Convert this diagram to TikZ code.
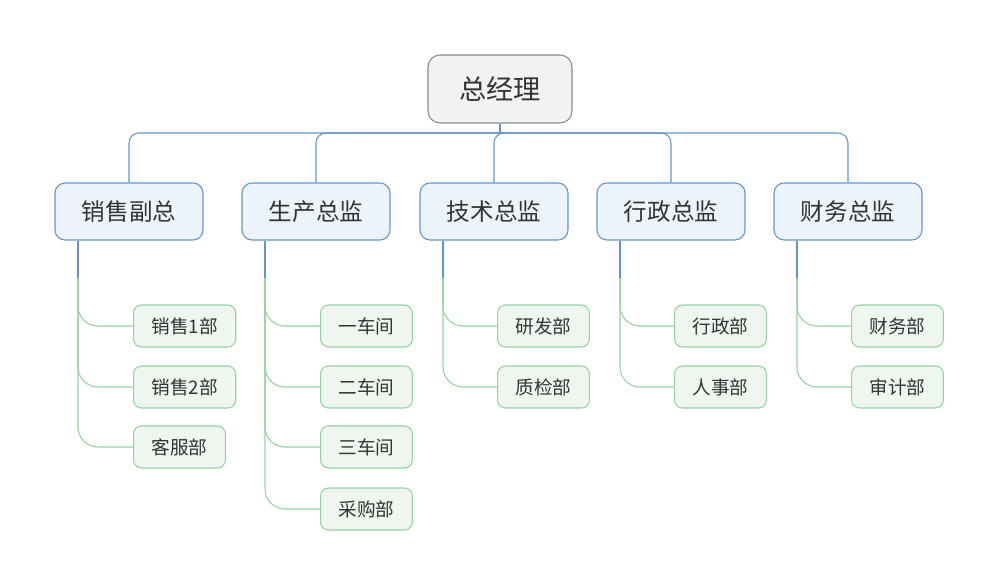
\documentclass[tikz,border=0pt]{standalone}
\usepackage{fontspec}
\setmainfont{Noto Sans CJK SC}
\definecolor{bossfill}{HTML}{F2F2F2}
\definecolor{bossline}{HTML}{8A8A8A}
\definecolor{headfill}{HTML}{EDF3FB}
\definecolor{headline}{HTML}{6393CD}
\definecolor{deptfill}{HTML}{EEF6EF}
\definecolor{deptline}{HTML}{92D3A2}
\definecolor{txt}{HTML}{333333}
\tikzset{
  boss/.style={draw=bossline,fill=bossfill,rounded corners=0.24cm,line width=0.6pt,
    minimum width=2.88cm,minimum height=1.36cm,text=txt,font=\fontsize{15.5}{18}\selectfont},
  head/.style={draw=headline,fill=headfill,rounded corners=0.2cm,line width=0.6pt,
    minimum width=2.96cm,minimum height=1.14cm,text=txt,font=\fontsize{13.4}{16}\selectfont},
  dept/.style={draw=deptline,fill=deptfill,rounded corners=0.16cm,line width=0.6pt,
    inner xsep=0.36cm,minimum height=0.84cm,anchor=west,text=txt,font=\fontsize{10.6}{13}\selectfont},
  blueline/.style={draw=headline,line width=0.6pt},
  greenline/.style={draw=deptline,line width=0.6pt,rounded corners=0.4cm}
}
\begin{document}
\begin{tikzpicture}[x=0.02cm,y=-0.02cm]
\useasboundingbox(0,0)rectangle(1000,584);
\node[boss](gm)at(500,89){总经理};
\coordinate(bar)at(500,133);
\draw[blueline](gm.south)--(bar);
%directors
\foreach \n/\x/\t in {xs/129/销售副总,sc/316/生产总监,js/494/技术总监,xz/671/行政总监,cw/848/财务总监}{
  \node[head](\n)at(\x,211.5){\t};
  \draw[blueline,rounded corners=0.2cm](bar)-|(\n.north);
}
%trunks
\foreach \n/\x in {xs/78,sc/265,js/443,xz/620,cw/797}{
  \coordinate(\n t)at(\x,278);
  \draw[blueline](\n.south-|\n t)--(\n t);
}
%departments
\foreach \n/\y/\t in {xs1/326/销售1部,xs2/387/销售2部,kf/447/客服部}{
  \node[dept](\n)at(133,\y){\t};
  \draw[greenline](xst)|-(\n.west);
}
\foreach \n/\y/\t in {cj1/326/一车间,cj2/387/二车间,cj3/447/三车间,cg/509/采购部}{
  \node[dept](\n)at(320,\y){\t};
  \draw[greenline](sct)|-(\n.west);
}
\foreach \n/\y/\t in {yf/326/研发部,zj/387/质检部}{
  \node[dept](\n)at(497,\y){\t};
  \draw[greenline](jst)|-(\n.west);
}
\foreach \n/\y/\t in {xzb/326/行政部,rs/387/人事部}{
  \node[dept](\n)at(674,\y){\t};
  \draw[greenline](xzt)|-(\n.west);
}
\foreach \n/\y/\t in {cwb/326/财务部,sj/387/审计部}{
  \node[dept](\n)at(851,\y){\t};
  \draw[greenline](cwt)|-(\n.west);
}
\end{tikzpicture}
\end{document}
